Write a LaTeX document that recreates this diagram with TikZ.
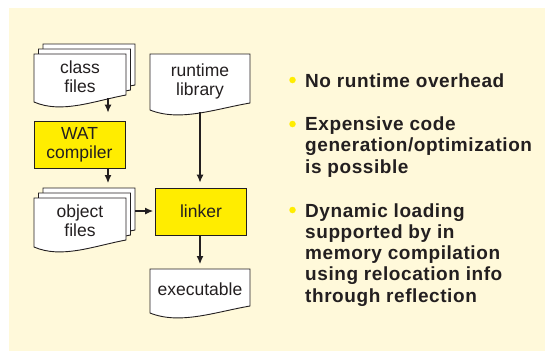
\documentclass[tikz,border=0pt]{standalone}
\usepackage{fontspec}
\setmainfont{Liberation Sans}
\usetikzlibrary{arrows.meta,positioning}

\definecolor{panel}{RGB}{255,249,218}
\definecolor{hilite}{RGB}{255,237,0}
\definecolor{ink}{RGB}{35,31,32}

\newcommand{\lblfont}{\fontsize{17.5bp}{19bp}\selectfont}
\newcommand{\notefont}{\fontsize{19bp}{21.2bp}\selectfont\bfseries\addfontfeature{LetterSpace=3}}
% a page with a wavy bottom edge: left, top, right, bottom
\newcommand{\docpage}[4]{%
  \filldraw[page] (#1,#2) -- (#3,#2) -- (#3,#4-7)
    .. controls ({#1+0.65*(#3-#1)},#4-1) and ({#1+0.3*(#3-#1)},#4+12) .. (#1,#4) -- cycle;}

\begin{document}
\begin{tikzpicture}[x=1bp,y=-1bp,
  page/.style={draw=ink,fill=white,line width=0.9bp},
  tool/.style={draw=ink,fill=hilite,line width=0.9bp,minimum width=91bp,minimum height=47bp,inner sep=0pt,align=center,text=ink,font=\lblfont},
  lbl/.style={align=center,text=ink,font=\lblfont,inner sep=0pt},
  conn/.style={draw=ink,line width=1.1bp,-{Latex[length=8bp,width=7bp]},shorten >=5bp},
  blt/.style={circle,fill=hilite,inner sep=0pt,minimum size=6.5bp},
  note/.style={anchor=base west,align=left,text=ink,font=\notefont,inner sep=0pt}]
  \useasboundingbox (0,0) rectangle (545,351);
  \fill[panel] (9,8) rectangle (545,351);

  % stacked class files
  \docpage{43}{44}{135}{92}
  \docpage{38.5}{49}{130.5}{97}
  \docpage{34}{54}{126}{102}
  \node[lbl] (cls) at (80,77) {class\\files};

  \node[tool] (wat) at (79.5,144.5) {WAT\\compiler};

  % stacked object files
  \docpage{43}{188}{135}{237}
  \docpage{38.5}{193}{130.5}{242}
  \docpage{34}{198}{126}{247}
  \node[lbl] (obj) at (80,221) {object\\files};

  \docpage{150}{54}{250}{110}
  \node[lbl] (rt) at (200,81) {runtime\\library};

  \node[tool] (lnk) at (201,211.5) {linker};

  \docpage{150}{269}{250}{313}
  \node[lbl] (exe) at (200,289) {executable};

  % connectors
  \coordinate (clsout) at (108,98);
  \coordinate (objin) at (108,188);
  \coordinate (objout) at (135,211);
  \coordinate (rtout) at (200,112);
  \coordinate (exein) at (200,269);
  \draw[conn,shorten >=8bp] (clsout) -- (clsout |- wat.north);
  \draw[conn] (objin |- wat.south) -- (objin);
  \draw[conn,shorten >=2bp] (objout) -- (objout -| lnk.west);
  \draw[conn] (rtout) -- (rtout |- lnk.north);
  \draw[conn] (exein |- lnk.south) -- (exein);

  % bullet points (base = last line)
  \node[blt] (b1) at (292.5,80) {};
  \node[note] (t1) at (305,87) {No runtime overhead};
  \node[blt] (b2) at (292.5,124) {};
  \node[note] (t2) at (305,173) {Expensive code\\generation/optimization\\is possible};
  \node[blt] (b3) at (292.5,210) {};
  \node[note] (t3) at (305,302) {Dynamic loading\\supported by in\\memory compilation\\using relocation info\\through reflection};
\end{tikzpicture}
\end{document}
